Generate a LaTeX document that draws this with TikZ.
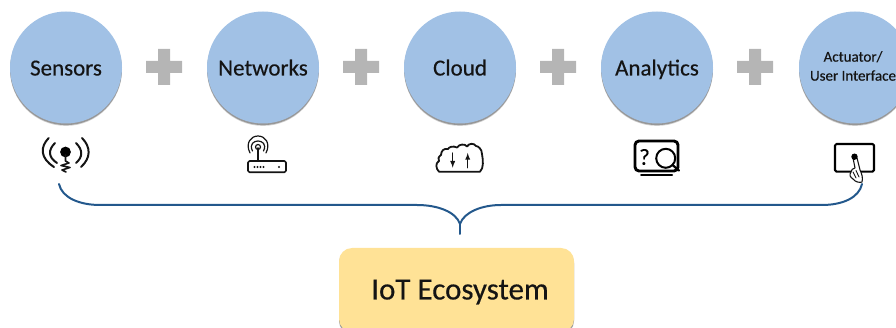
\documentclass[tikz,border=0pt]{standalone}
\usepackage{fontspec}
\setmainfont{Carlito}
\newfontfamily\labelfont[RawFeature={embolden=0.35}]{Carlito}
\usetikzlibrary{shadows}
\definecolor{blobblue}{HTML}{A1C1E5}
\definecolor{plusgray}{HTML}{B5B5B5}
\definecolor{bracketblue}{HTML}{23588C}
\definecolor{boxyellow}{HTML}{FFE296}
\definecolor{inkc}{HTML}{141414}
\tikzset{
  x=1pt,y=-1pt,
  softshadow/.style={
    drop shadow={shadow xshift=0pt,shadow yshift=-2.4pt,opacity=.18,fill=black},
    drop shadow={shadow xshift=0pt,shadow yshift=-1.6pt,opacity=.28,fill=black}},
  blob/.style={circle,fill=blobblue,minimum size=112pt,inner sep=0pt,align=center,text=inkc,
    font=\labelfont\fontsize{23}{24}\selectfont,text height=18pt,text depth=2pt,softshadow},
  plussign/.style={fill=plusgray,draw=none},
  brace/.style={draw=bracketblue,line width=2pt,line cap=round},
  ico/.style={draw=inkc,line width=1.6pt,line cap=round,line join=round},
  icothick/.style={draw=black,line width=2.9pt,line cap=round,line join=round},
  goalbox/.style={rectangle,rounded corners=13pt,fill=boxyellow,minimum width=235pt,minimum height=84pt,
    inner sep=0pt,softshadow},
}
\newcommand{\plusat}[2]{\fill[plussign] (#1-18,#2-6) rectangle (#1+18,#2+6) (#1-6,#2-18) rectangle (#1+6,#2+18);}
\begin{document}
\begin{tikzpicture}
\useasboundingbox (0,0) rectangle (896,328);
\clip (0,0) rectangle (896,328);
\node[blob] (sensors) at (66,67.5) {Sensors};
\node[blob] (networks) at (263,67.5) {Networks};
\node[blob] (cloud) at (460,67.5) {Cloud};
\node[blob] (analytics) at (657,67.5) {Analytics};
\node[blob] (actuator) at (855,67.5) {};
\node[font=\labelfont\fontsize{15}{19}\selectfont,align=center,text=inkc] (actlabel) at (853,66) {Actuator/\\User Interface};
\plusat{164}{67}
\plusat{361}{67}
\plusat{558}{67}
\plusat{755}{67}
% sensor icon
\fill[black] (65.5,152) circle (5.4);
\draw[ico] (65.5,155) -- (65.5,161) -- (69,163) -- (61,165.5) -- (70,167.5) -- (62,170) -- (66,172);
\draw[ico,line width=2pt] (48.7,138) .. controls (40,147) and (40,158) .. (54,167);
\draw[ico,line width=2pt] (55,143) .. controls (48,150) and (48,157) .. (57,163);
\draw[ico,line width=2pt] (82,138) .. controls (91,147) and (91,158) .. (81,167);
\draw[ico,line width=2pt] (76,143) .. controls (83,150) and (83,157) .. (76,163);
% router icon
\draw[ico,rounded corners=1.5pt] (248,161) rectangle (286,172.3);
\draw[ico] (258,148) -- (258,161);
\draw[ico,line width=1.2pt] (258,147) circle (2.5);
\draw[ico,line width=1.2pt] (252.5,151) .. controls (249,144) and (254,141) .. (258,141) .. controls (262,141) and (267,144) .. (263.5,151);
\draw[ico,line width=1.2pt] (250,153) .. controls (245,143) and (251,136) .. (258,136) .. controls (265,136) and (271,143) .. (266,153);
\foreach \q in {254.5,257.5,260.5,263.5,279}{\fill[inkc] (\q,167) circle (1.1);}
% cloud icon
\draw[ico,line width=1.8pt] (439,171.7) -- (480,171.7)
  .. controls (484,168) and (483,160) .. (482,154)
  .. controls (482,149) and (478,146) .. (476,146)
  .. controls (474,143) and (469,143) .. (467,146.5)
  .. controls (465,143.5) and (459,144) .. (457,147.5)
  .. controls (453,145.5) and (449,147) .. (448,149)
  .. controls (444,148) and (441,151) .. (441,155)
  .. controls (438,157) and (438,159) .. (439,161)
  .. controls (435,163) and (436,169) .. (439,171.7);
\draw[ico,line width=1.3pt,-latex] (452.7,153) -- (452.7,167.7);
\draw[ico,line width=1.3pt,-latex] (467.7,167.7) -- (467.7,153);
% analytics icon
\draw[icothick,rounded corners=4pt] (635,141) rectangle (678,171);
\draw[icothick,line width=2pt] (641,174.7) -- (672,174.7);
\node[inner sep=0pt,font=\labelfont\fontsize{23}{24}\selectfont] (qmark) at (644.5,157) {?};
\draw[icothick,line width=2pt] (665.7,158.3) circle (9.5);
\draw[icothick,line width=2.2pt] (672.5,165) -- (679,170.5);
% touch icon
\draw[icothick,line width=2.1pt,rounded corners=1.5pt] (835,144) rectangle (874,171.7);
\draw[ico,line width=1.1pt,fill=white] (851,172) .. controls (849,175) and (850,177) .. (853,179)
  .. controls (855,182) and (860,183) .. (862,182) .. controls (863,178) and (862,174) .. (860,170)
  -- (857,158) -- (853,158) -- (855,168) .. controls (853,168) and (851,170) .. (851,172);
\draw[ico,line width=.9pt] (853,172) -- (856,178) (856,170.5) -- (859,177);
\fill[black] (854.5,156.7) circle (3.2);
% bracket
\coordinate (bl) at (59,184);
\coordinate (br) at (862,184);
\coordinate (bt) at (460,234);
\draw[brace] (bl) .. controls (62,198) and (80,205) .. (100,205) -- (417,205)
  .. controls (438,205) and (456,212) .. (460,224);
\draw[brace] (br) .. controls (859,198) and (842,205) .. (822,205) -- (501,205)
  .. controls (482,205) and (464,212) .. (460,224);
\draw[brace] (460,224) -- (bt);
% goal box
\node[goalbox] (goal) at (456.5,290) {};
\node[font=\labelfont\fontsize{31}{33}\selectfont,text=inkc,inner sep=0pt] (goallabel) at (460,292) {IoT Ecosystem};
\end{tikzpicture}
\end{document}
